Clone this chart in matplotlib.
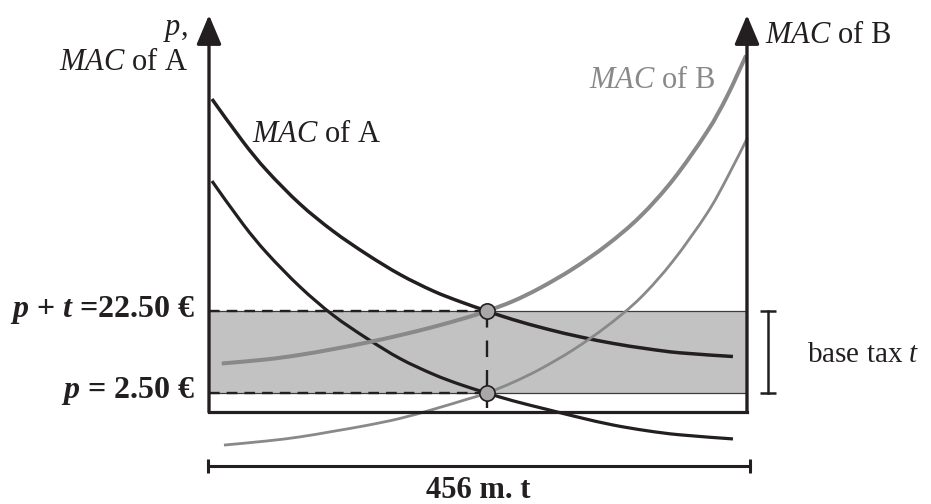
import matplotlib
matplotlib.use("Agg")
import matplotlib.pyplot as plt
from matplotlib.path import Path
from matplotlib.patches import PathPatch

# ---------------- data ----------------
total_q = 456            # m. t, width of the diagram
q_eq = 235.6             # equilibrium abatement of A
price = 2.50             # p
tax = 20.00              # base tax t  -> p + t = 22.50

q_A = [2.5, 28.8, 49.2, 77.1, 105.1, 133.9, 161.9, 189.9, 212.7, 235.6,
       257.7, 286.5, 314.5, 342.4, 371.2, 399.2, 444.1]
mac_A_high = [74.2, 63.8, 56.7, 48.6, 42.0, 36.3, 31.4, 27.4, 24.8, 22.5,
              20.4, 18.1, 16.2, 14.6, 13.3, 12.3, 11.4]
mac_A_low = [54.2, 43.7, 36.6, 28.4, 21.5, 15.8, 10.9, 7.1, 4.6, 2.5,
             0.6, -1.5, -3.5, -5.3, -6.7, -7.7, -8.7]

q_B_high = [10.8, 48.9, 77.1, 105.1, 133.7, 161.9, 189.9, 218.4, 235.6,
            257.7, 280.5, 308.5, 337.3, 365.3, 393.3, 422.1, 439.0, 455.2]
mac_B_high = [9.7, 10.7, 11.8, 13.2, 14.8, 16.6, 18.6, 20.9, 22.5,
              24.9, 28.1, 32.8, 38.6, 45.5, 54.5, 66.2, 74.8, 84.8]

q_B_low = [12.7, 48.9, 77.1, 105.1, 133.7, 161.9, 189.9, 218.4, 235.6,
           257.7, 280.5, 308.5, 337.3, 365.3, 393.3, 422.1, 439.0, 456.5]
mac_B_low = [-10.2, -9.2, -8.2, -6.85, -5.4, -3.7, -1.5, 0.95, 2.5,
             5.1, 8.3, 13.0, 18.8, 25.6, 34.7, 46.3, 54.9, 64.8]

# ---------------- style ----------------
plt.rcParams['font.family'] = ['Liberation Serif', 'DejaVu Serif']
plt.rcParams['mathtext.fontset'] = 'custom'
plt.rcParams['mathtext.rm'] = 'Liberation Serif'
plt.rcParams['mathtext.it'] = 'Liberation Serif:italic'
plt.rcParams['mathtext.bf'] = 'Liberation Serif:bold'
try:
    plt.rcParams['mathtext.bfit'] = 'Liberation Serif:italic:bold'
    BFIT = True
except KeyError:
    BFIT = False

DARK = '#231f20'
GRAY = '#898989'
BAND = '#c2c2c2'

fig = plt.figure(figsize=(9.31, 5.04), dpi=100)
ax = fig.add_axes([0, 0, 1, 1])
ax.set_xlim(-177.15, 611.97)
ax.set_ylim(-24.57, 98.35)
ax.axis('off')

y_floor = -2.13
y_top = 94.7
pt = price + tax


def smooth_curve(xs, ys, **kw):
    """Draw a smooth Bezier stroke passing through the read points."""
    pts = list(zip(xs, ys))
    n = len(pts)
    verts = [pts[0]]
    codes = [Path.MOVETO]
    for i in range(n - 1):
        p0 = pts[i - 1] if i > 0 else pts[i]
        p1 = pts[i]
        p2 = pts[i + 1]
        p3 = pts[i + 2] if i + 2 < n else pts[i + 1]
        c1 = (p1[0] + (p2[0] - p0[0]) / 6.0, p1[1] + (p2[1] - p0[1]) / 6.0)
        c2 = (p2[0] - (p3[0] - p1[0]) / 6.0, p2[1] - (p3[1] - p1[1]) / 6.0)
        verts += [c1, c2, p2]
        codes += [Path.CURVE4] * 3
    patch = PathPatch(Path(verts, codes), fill=False, capstyle='butt',
                      joinstyle='round', **kw)
    ax.add_patch(patch)


# shaded band between p and p + t
ax.fill_between([0, total_q], [price, price], [pt, pt], color=BAND, lw=0, zorder=1)
ax.hlines([price, pt], 0, total_q, color='#3c3c3c', lw=0.9, zorder=2)

# dashed guide lines
ax.plot([0, q_eq], [pt, pt], color=DARK, lw=1.7, dashes=(4.5, 3), zorder=3)
ax.plot([0, q_eq], [price, price], color=DARK, lw=1.7, dashes=(4.5, 3), zorder=3)
ax.plot([q_eq, q_eq], [pt, y_floor + 1.0], color=DARK, lw=1.7, dashes=(7, 5.5), zorder=3)

# curves
smooth_curve(q_A, mac_A_high, edgecolor=DARK, lw=2.5, zorder=4)
smooth_curve(q_A, mac_A_low, edgecolor=DARK, lw=2.3, zorder=4)
smooth_curve(q_B_high, mac_B_high, edgecolor=GRAY, lw=2.9, zorder=4)
smooth_curve(q_B_low, mac_B_low, edgecolor=GRAY, lw=2.0, zorder=4)

# bottom line and two vertical axes with arrows
ax.plot([0, total_q], [y_floor, y_floor], color=DARK, lw=2.3, zorder=5,
        solid_capstyle='projecting')
for xa in (0, total_q):
    ax.annotate('', xy=(xa, y_top), xytext=(xa, y_floor),
                arrowprops=dict(arrowstyle='-|>,head_length=0.9,head_width=0.38',
                                mutation_scale=20, lw=2.4, color=DARK,
                                shrinkA=0, shrinkB=0), zorder=6)

# equilibrium points
ax.plot([q_eq, q_eq], [price, pt], 'o', ms=11, mfc='#a8a8a8', mec=DARK, mew=1.2, zorder=7)

# bracket for base tax
xb = 473.8
ax.plot([xb, xb], [price, pt], color=DARK, lw=1.8, zorder=5)
ax.plot([xb, xb], [price, pt], ls='none', marker='_', ms=11, mew=1.8, color=DARK, zorder=5)

# width measurement bar
y_bar = -15.3
ax.plot([-0.9, total_q + 2.5], [y_bar, y_bar], color=DARK, lw=2.2, zorder=5)
ax.plot([-0.9, total_q + 2.5], [y_bar, y_bar], ls='none', marker='|', ms=10,
        mew=2.2, color=DARK, zorder=5)

FS = 22
bi = (lambda s: r'$\mathbfit{%s}$' % s) if BFIT else (lambda s: r'$\mathit{%s}$' % s)

# texts
ax.text(-17.8, 89.8, r'$\mathit{p}$,', fontsize=FS, ha='right', va='baseline', color=DARK)
ax.text(-17.8, 81.3, r'$\mathit{MAC}$ of A', fontsize=FS, ha='right', va='baseline', color=DARK)
ax.text(36.4, 63.7, r'$\mathit{MAC}$ of A', fontsize=FS, ha='left', va='baseline', color=DARK)
ax.text(322.1, 76.9, r'$\mathit{MAC}$ of B', fontsize=FS, ha='left', va='baseline', color=GRAY)
ax.text(471.3, 87.9, r'$\mathit{MAC}$ of B', fontsize=FS, ha='left', va='baseline', color=DARK)
ax.text(506.9, 10.1, r'base tax $\mathit{t}$', fontsize=21, ha='left', va='baseline', color=DARK)

ax.annotate(bi('p') + ' + ' + bi('t') + ' =%.2f €' % pt, xy=(0, pt), xytext=(-10, -4.5),
            textcoords='offset points', ha='right', va='baseline',
            fontsize=23, fontweight='bold', color=DARK)
ax.annotate(bi('p') + ' = %.2f €' % price, xy=(0, price), xytext=(-10, -3.8),
            textcoords='offset points', ha='right', va='baseline',
            fontsize=23, fontweight='bold', color=DARK)
ax.text(total_q / 2, -23.0, '%d m. t' % total_q, fontsize=22, fontweight='bold',
        ha='center', va='baseline', color=DARK)

fig.savefig('out.png', dpi=100)
